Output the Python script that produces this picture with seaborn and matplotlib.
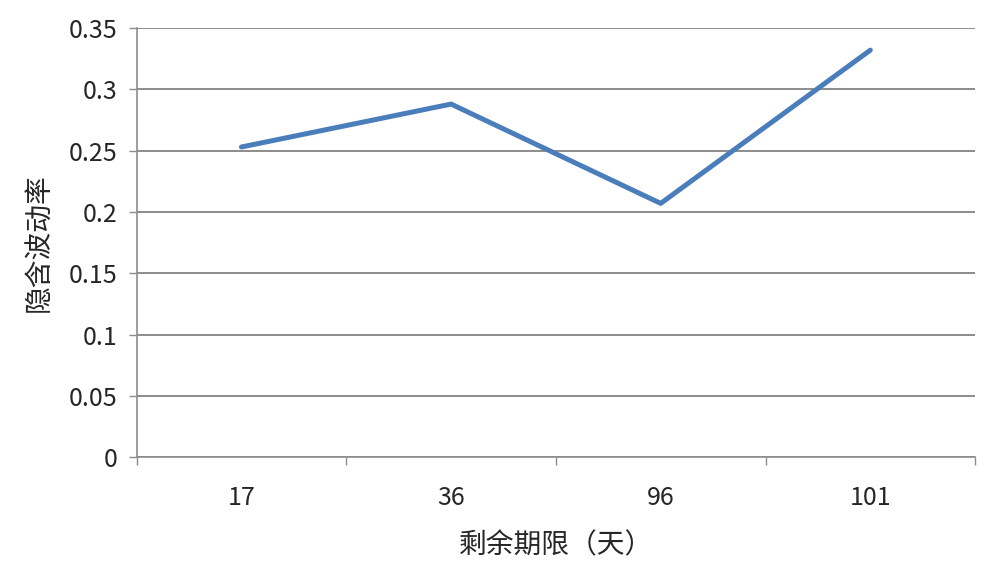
import pandas as pd
import matplotlib
matplotlib.use("Agg")
import matplotlib.pyplot as plt
import seaborn as sns
from matplotlib.ticker import FixedLocator, NullFormatter

# data
days = ["17", "36", "96", "101"]
iv = [0.253, 0.288, 0.207, 0.332]
yticks = [0, 0.05, 0.1, 0.15, 0.2, 0.25, 0.3, 0.35]
ylabels = ["0", "0.05", "0.1", "0.15", "0.2", "0.25", "0.3", "0.35"]

df = pd.DataFrame({"days": days, "iv": iv})

sns.set_theme(style="white")
plt.rcParams['font.family'] = ['Noto Sans CJK SC', 'DejaVu Sans']

grey = "#8c8c8c"

fig = plt.figure(figsize=(9.9, 5.61), dpi=100)
ax = fig.add_axes([0.138, 0.185, 0.847, 0.765])

sns.lineplot(data=df, x="days", y="iv", color="#4a7ebb", linewidth=3.6,
             sort=False, ax=ax)

ax.set_xlim(-0.5, 3.5)
ax.set_ylim(0, 0.35)
ax.set_yticks(yticks)
ax.set_yticklabels(ylabels)
ax.grid(axis="y", color=grey, linewidth=1.4)
ax.set_axisbelow(True)

# ticks at category boundaries, labels at centres
ax.xaxis.set_major_locator(FixedLocator([-0.5, 0.5, 1.5, 2.5, 3.5]))
ax.xaxis.set_major_formatter(NullFormatter())
ax.set_xticks([0, 1, 2, 3], minor=True)
ax.set_xticklabels(days, minor=True)
ax.tick_params(axis="x", which="major", direction="out", length=6, width=1, color=grey, bottom=True)
ax.tick_params(axis="x", which="minor", length=0, pad=20, labelsize=18)
ax.tick_params(axis="y", direction="out", length=6, width=1, color=grey, left=True, labelsize=18, pad=8)

for s in ["top", "right"]:
    ax.spines[s].set_visible(False)
for s in ["left", "bottom"]:
    ax.spines[s].set_color(grey)
    ax.spines[s].set_linewidth(1.2)

ax.set_xlabel("剩余期限（天）", fontsize=20, labelpad=14)
ax.set_ylabel("隐含波动率", fontsize=20, labelpad=10)

fig.savefig("out.png", dpi=100)
